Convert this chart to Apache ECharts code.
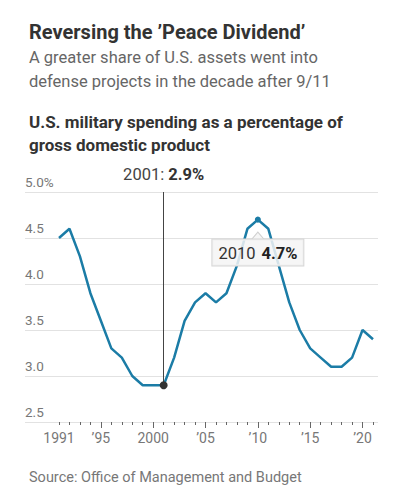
<!DOCTYPE html>
<html>
<head>
<meta charset="utf-8">
<script src="https://cdn.jsdelivr.net/npm/echarts@6/dist/echarts.min.js"></script>
<style>
  html, body { margin: 0; padding: 0; background: #fff; }
  #chart { width: 400px; height: 501px; }
</style>
</head>
<body>
<div id="chart"></div>
<script>
var chart = echarts.init(document.getElementById('chart'), null, { renderer: 'svg' });

var years = [1991, 1992, 1993, 1994, 1995, 1996, 1997, 1998, 1999, 2000,
             2001, 2002, 2003, 2004, 2005, 2006, 2007, 2008, 2009, 2010,
             2011, 2012, 2013, 2014, 2015, 2016, 2017, 2018, 2019, 2020, 2021];
var spending = [4.5, 4.6, 4.3, 3.9, 3.6, 3.3, 3.2, 3.0, 2.9, 2.9,
                2.9, 3.2, 3.6, 3.8, 3.9, 3.8, 3.9, 4.2, 4.6, 4.7,
                4.6, 4.2, 3.8, 3.5, 3.3, 3.2, 3.1, 3.1, 3.2, 3.5, 3.4];
var labelYears = [1991, 1995, 2000, 2005, 2010, 2015, 2020];
var labelText = ['1991', '\u201995', '2000', '\u201905', '\u201910', '\u201915', '\u201920'];
var majorTicks = [1995, 2000, 2005, 2010, 2015, 2020];
var yTicks = [2.5, 3.0, 3.5, 4.0, 4.5, 5.0];

var i2001 = years.indexOf(2001);
var i2010 = years.indexOf(2010);

var font = 'Roboto';
var blue = '#1b7ca6';
var boxFill = 'rgba(245,245,245,0.85)';

var option = {
    textStyle: { fontFamily: font },
    animation: false,
    title: [
        {
            text: 'Reversing the \u2019Peace Dividend\u2019',
            left: 24, top: 17,
            textStyle: { fontFamily: font, fontSize: 20, fontWeight: 'bold', color: '#333' }
        },
        {
            text: 'A greater share of U.S. assets went into\ndefense projects in the decade after 9/11',
            left: 24, top: 40,
            textStyle: { fontFamily: font, fontSize: 16.5, fontWeight: 'normal', color: '#666', lineHeight: 24 }
        },
        {
            text: 'U.S. military spending as a percentage of\ngross domestic product',
            left: 24, top: 105,
            textStyle: { fontFamily: font, fontSize: 17, fontWeight: 'bold', color: '#333', lineHeight: 23 }
        },
        {
            text: 'Source: Office of Management and Budget',
            left: 24, top: 465,
            textStyle: { fontFamily: font, fontSize: 14.5, fontWeight: 'normal', color: '#777' }
        }
    ],
    grid: [
        { left: 25, right: 22, top: 192, bottom: 79 },
        { left: 59, right: 27, top: 192, bottom: 79 }
    ],
    xAxis: [
        { gridIndex: 0, type: 'value', min: 0, max: 1, show: false },
        {
            gridIndex: 1, type: 'value', min: years[0], max: years[years.length - 1],
            position: 'bottom',
            axisLine: { show: false },
            splitLine: { show: false },
            axisTick: { show: true, length: 3, customValues: years, lineStyle: { color: '#666' } },
            axisLabel: { show: false }
        },
        {
            gridIndex: 1, type: 'value', min: years[0], max: years[years.length - 1],
            position: 'bottom',
            axisLine: { show: false },
            splitLine: { show: false },
            axisTick: { show: true, length: 6, customValues: majorTicks, lineStyle: { color: '#666' } },
            axisLabel: {
                show: true, customValues: labelYears, margin: 9,
                color: '#777', fontSize: 14, fontFamily: font,
                formatter: function (v) { return labelText[labelYears.indexOf(v)]; }
            }
        }
    ],
    yAxis: [
        {
            gridIndex: 0, type: 'value', min: yTicks[0], max: yTicks[yTicks.length - 1], interval: 0.5,
            axisLine: { show: false },
            axisTick: { show: false },
            splitLine: { show: true, lineStyle: { color: '#e2e2e2', width: 1 } },
            axisLabel: {
                inside: true, margin: 0, align: 'left', verticalAlign: 'bottom',
                padding: [0, 0, 3, 0],
                color: '#777', fontSize: 13.5, fontFamily: font,
                formatter: function (v) { return v === 5 ? '5.0%' : v.toFixed(1); }
            }
        },
        { gridIndex: 1, type: 'value', min: yTicks[0], max: yTicks[yTicks.length - 1], show: false }
    ],
    series: [{
        type: 'line',
        xAxisIndex: 1, yAxisIndex: 1,
        data: years.map(function (y, i) { return [y, spending[i]]; }),
        showSymbol: false,
        silent: true,
        lineStyle: { color: blue, width: 2.5 },
        itemStyle: { color: blue },
        markLine: {
            silent: true,
            symbol: 'none',
            lineStyle: { color: '#444', width: 1, type: 'solid' },
            label: {
                show: true, position: 'end', distance: 9,
                formatter: '{a|' + years[i2001] + ': }{b|' + spending[i2001].toFixed(1) + '%}',
                rich: {
                    a: { fontSize: 16.5, color: '#444', fontFamily: font },
                    b: { fontSize: 16.5, color: '#333', fontWeight: 'bold', fontFamily: font }
                }
            },
            data: [[
                { coord: [years[i2001], spending[i2001]] },
                { coord: [years[i2001], yTicks[yTicks.length - 1]] }
            ]]
        },
        markPoint: {
            silent: true,
            data: [
                {
                    coord: [years[i2010], spending[i2010]],
                    symbol: 'path://M0,8 L6,0 L12,8',
                    symbolSize: [12, 7],
                    symbolOffset: [0, 16],
                    itemStyle: { color: boxFill, borderColor: '#d0d0d0', borderWidth: 1 },
                    label: { show: false }
                },
                {
                    coord: [years[i2010], spending[i2010]],
                    symbol: 'circle', symbolSize: 6,
                    itemStyle: { color: blue },
                    label: {
                        show: true, position: 'inside', offset: [0, 33],
                        formatter: '{a|' + years[i2010] + '}  {b|' + spending[i2010].toFixed(1) + '%}',
                        backgroundColor: boxFill,
                        borderColor: '#d6d6d6', borderWidth: 1,
                        padding: [5, 6, 4, 6],
                        rich: {
                            a: { fontSize: 16.5, color: '#333', fontFamily: font },
                            b: { fontSize: 16.5, color: '#222', fontWeight: 'bold', fontFamily: font }
                        }
                    }
                },
                {
                    coord: [years[i2001], spending[i2001]],
                    symbol: 'circle', symbolSize: 8,
                    itemStyle: { color: '#333' },
                    label: { show: false }
                }
            ]
        }
    }]
};

chart.setOption(option);
</script>
</body>
</html>
